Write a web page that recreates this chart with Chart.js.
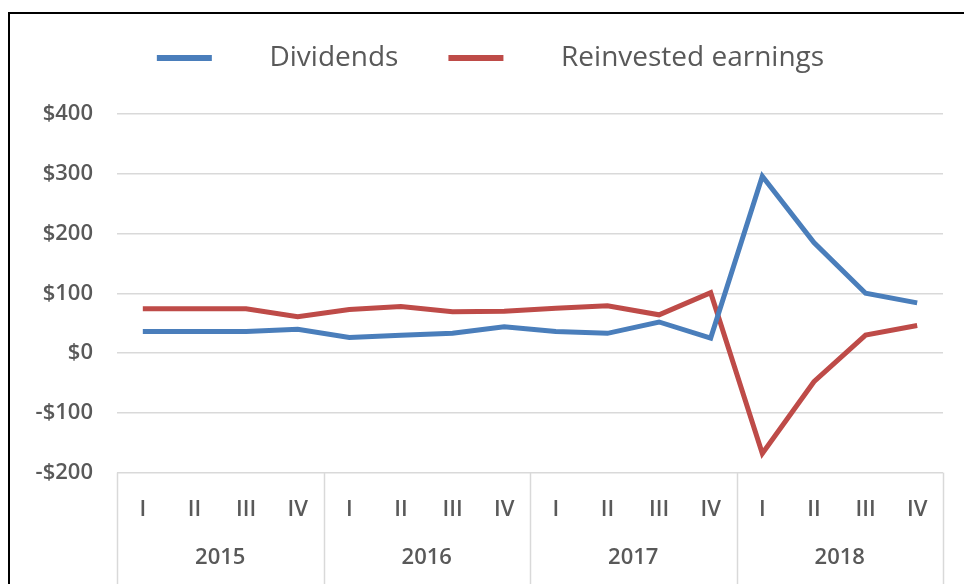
<!DOCTYPE html>
<html>
<head>
<meta charset="utf-8">
<script src="https://cdn.jsdelivr.net/npm/chart.js@4/dist/chart.umd.min.js"></script>
<style>
  html, body { margin: 0; padding: 0; background: #fff; }
  body { width: 964px; height: 584px; overflow: hidden; position: relative; }
  #frame { position: absolute; left: 8px; top: 12px; width: 956px; height: 572px;
           border-top: 2px solid #000; border-left: 2px solid #000; }
  #wrap { position: absolute; left: 0; top: 0; width: 954px; height: 570px; }
</style>
</head>
<body>
<div id="frame"><div id="wrap"><canvas id="chart"></canvas></div></div>
<script>
(function(){
    var years = ['2015', '2016', '2017', '2018'];
    var quarters = ['I', 'II', 'III', 'IV', 'I', 'II', 'III', 'IV', 'I', 'II', 'III', 'IV', 'I', 'II', 'III', 'IV'];
    var dividends = [36, 36, 36, 40, 26, 30, 33, 44, 36, 33, 52, 25, 296, 185, 100, 84];
    var reinvested = [74, 74, 74, 61, 73, 78, 69, 70, 75, 79, 64, 101, -168, -48, 30, 46];
    var yTicks = [-200, -100, 0, 100, 200, 300, 400];

    var gridGray = '#d9d9d9';
    var textGray = '#595959';
    var fontFam = "'Open Sans', 'Liberation Sans', sans-serif";

    // year separators below the plot, lined up on the year axis
    const yearLines = {
        id: 'yearLines',
        afterDraw(chart) {
            const area = chart.chartArea;
            const ctx = chart.ctx;
            const step = area.width / years.length;
            ctx.save();
            ctx.strokeStyle = gridGray;
            ctx.lineWidth = 1.5;
            for (let i = 0; i <= years.length; i++) {
                const x = Math.round(area.left + i * step) + 0.5;
                ctx.beginPath();
                ctx.moveTo(x, area.bottom);
                ctx.lineTo(x, chart.height);
                ctx.stroke();
            }
            ctx.restore();
        }
    };

    // nudge the legend: a bit right and up, as in the original
    const legendNudge = {
        id: 'legendNudge',
        afterLayout(chart) {
            const lg = chart.legend;
            if (!lg) return;
            lg.left += 14; lg.right += 14;
            lg.top -= 32; lg.bottom -= 32;
        }
    };

    const data = {
        labels: quarters,
        datasets: [{
            label: 'Dividends',
            data: dividends,
            borderColor: '#4a7ebb',
            backgroundColor: '#4a7ebb',
            borderWidth: 5,
            pointRadius: 0,
            tension: 0
        },{
            label: 'Reinvested earnings',
            data: reinvested,
            borderColor: '#be4b48',
            backgroundColor: '#be4b48',
            borderWidth: 5,
            pointRadius: 0,
            tension: 0
        }]
    };

    const tickFont = { family: fontFam, size: 22, weight: '600' };

    const config = {
        type: 'line',
        data,
        options: {
            responsive: true,
            maintainAspectRatio: false,
            animation: false,
            layout: { padding: { top: 12, left: 0, right: 21, bottom: 15 } },
            scales: {
                x: {
                    type: 'category',
                    offset: true,
                    grid: { display: false, drawTicks: false },
                    border: { display: false },
                    ticks: { color: textGray, font: { family: fontFam, size: 22, weight: '600', lineHeight: 1.2 }, padding: 24, maxRotation: 0, autoSkip: false }
                },
                x2: {
                    type: 'category',
                    labels: years,
                    offset: true,
                    position: 'bottom',
                    grid: { display: false, drawTicks: false },
                    border: { display: false },
                    ticks: { color: textGray, font: { family: fontFam, size: 22, weight: '600', lineHeight: 1 }, padding: 0, maxRotation: 0 }
                },
                y: {
                    min: -200,
                    max: 400,
                    afterBuildTicks: function(scale) {
                        scale.ticks = yTicks.map(function(v) { return { value: v }; });
                    },
                    afterFit: function(scale) { scale.width = 107; },
                    grid: { color: gridGray, lineWidth: 1.5, drawTicks: false },
                    border: { display: false },
                    ticks: {
                        color: textGray,
                        padding: 24,
                        font: tickFont,
                        callback: function(value) {
                            return (value < 0 ? '-$' : '$') + Math.abs(value);
                        }
                    }
                }
            },
            plugins: {
                legend: {
                    position: 'top',
                    labels: {
                        color: textGray,
                        font: { family: fontFam, size: 28 },
                        boxWidth: 55,
                        boxHeight: 6,
                        padding: 50,
                        generateLabels: function(chart) {
                            return Chart.defaults.plugins.legend.labels.generateLabels(chart).map(function(item) {
                                item.lineWidth = 0;
                                item.text = '      ' + item.text;
                                return item;
                            });
                        }
                    }
                },
                tooltip: { enabled: false }
            }
        },
        plugins: [yearLines, legendNudge]
    };

    const myChart = new Chart(document.getElementById('chart'), config);
})();
</script>
</body>
</html>
